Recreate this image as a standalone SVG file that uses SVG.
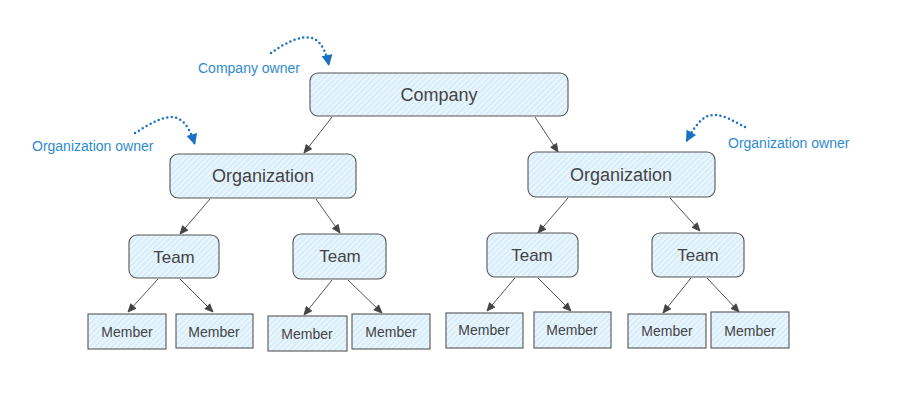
<svg xmlns="http://www.w3.org/2000/svg" width="904" height="401" viewBox="0 0 904 401">
<defs>
<pattern id="hatch" width="4" height="4" patternUnits="userSpaceOnUse" patternTransform="rotate(45)">
<rect width="4" height="4" fill="#e9f5fd"/>
<line x1="0" y1="0" x2="0" y2="4" stroke="#b8def7" stroke-width="1.2"/>
</pattern>
<marker id="arr" markerWidth="10" markerHeight="10" refX="9" refY="5" orient="auto" markerUnits="userSpaceOnUse">
<path d="M1,1.5 L9,5 L1,8.5 Z" fill="#444" stroke="#444" stroke-width="0.8" stroke-linejoin="round"/>
</marker>
<marker id="barr" markerWidth="14" markerHeight="14" refX="12" refY="7" orient="auto" markerUnits="userSpaceOnUse">
<path d="M1,1.5 L12,7 L1,12.5 Z" fill="#1971c2"/>
</marker>
</defs>
<style>
.node rect{fill:url(#hatch);stroke:#555;stroke-width:1.1}
.node text{font-family:"Liberation Sans",Arial,sans-serif;fill:#444;text-anchor:middle;dominant-baseline:central}
.big text{font-size:18px}
.team text{font-size:17px}
.mem text{font-size:14px}
.conn line{stroke:#555;stroke-width:1;marker-end:url(#arr)}
.own path{fill:none;stroke:#1971c2;stroke-width:2.5;stroke-dasharray:0 4.5;stroke-linecap:round;marker-end:url(#barr)}
.lbl{font-family:"Liberation Sans",Arial,sans-serif;font-size:14px;fill:#2f8ad0}
</style>
<rect width="904" height="401" fill="#fff"/>
<g id="connectors" class="conn">
<line x1="332" y1="117" x2="304" y2="153"/>
<line x1="535" y1="117" x2="558" y2="152"/>
<line x1="210" y1="199" x2="180" y2="234"/>
<line x1="316" y1="199" x2="340" y2="233"/>
<line x1="568" y1="198" x2="538" y2="233"/>
<line x1="670" y1="198" x2="700" y2="231"/>
<line x1="158" y1="279" x2="128" y2="312"/>
<line x1="180" y1="279" x2="213" y2="312"/>
<line x1="332" y1="280" x2="304" y2="315"/>
<line x1="348" y1="280" x2="382" y2="313"/>
<line x1="515" y1="278" x2="487" y2="311"/>
<line x1="538" y1="278" x2="571" y2="311"/>
<line x1="691" y1="278" x2="663" y2="313"/>
<line x1="707" y1="278" x2="739" y2="312"/>
</g>
<g id="owners" class="own">
<path d="M271,53 C285,43 300,35 312,38 C322,41 327,55 329,66"/>
<path d="M135,133 C150,124 165,114 177,118 C187,122 192,135 195,145"/>
<path d="M745,127 C733,121 720,112 708,116 C698,120 691,133 686,142"/>
</g>
<text class="lbl" x="198" y="73">Company owner</text>
<text class="lbl" x="32" y="151">Organization owner</text>
<text class="lbl" x="728" y="148">Organization owner</text>
<g id="company" class="node big"><rect x="310" y="73" width="258" height="43" rx="8"/><text x="439" y="95">Company</text></g>
<g id="org1" class="node big"><rect x="170" y="154" width="186" height="44" rx="8"/><text x="263" y="176">Organization</text></g>
<g id="org2" class="node big"><rect x="528" y="152" width="187" height="45" rx="8"/><text x="621" y="175">Organization</text></g>
<g id="team1" class="node team"><rect x="129" y="235" width="90" height="43" rx="8"/><text x="174" y="257">Team</text></g>
<g id="team2" class="node team"><rect x="293" y="234" width="93" height="45" rx="8"/><text x="340" y="256">Team</text></g>
<g id="team3" class="node team"><rect x="487" y="233" width="91" height="44" rx="8"/><text x="532" y="255">Team</text></g>
<g id="team4" class="node team"><rect x="652" y="233" width="92" height="44" rx="8"/><text x="698" y="255">Team</text></g>
<g id="m1" class="node mem"><rect x="88" y="314" width="78" height="35"/><text x="127" y="332">Member</text></g>
<g id="m2" class="node mem"><rect x="176" y="314" width="77" height="34"/><text x="214" y="332">Member</text></g>
<g id="m3" class="node mem"><rect x="268" y="316" width="79" height="35"/><text x="307" y="334">Member</text></g>
<g id="m4" class="node mem"><rect x="352" y="314" width="78" height="35"/><text x="391" y="332">Member</text></g>
<g id="m5" class="node mem"><rect x="446" y="313" width="77" height="35"/><text x="484" y="330">Member</text></g>
<g id="m6" class="node mem"><rect x="534" y="312" width="77" height="36"/><text x="572" y="330">Member</text></g>
<g id="m7" class="node mem"><rect x="628" y="314" width="78" height="34"/><text x="667" y="331">Member</text></g>
<g id="m8" class="node mem"><rect x="711" y="312" width="78" height="36"/><text x="750" y="331">Member</text></g>
</svg>
